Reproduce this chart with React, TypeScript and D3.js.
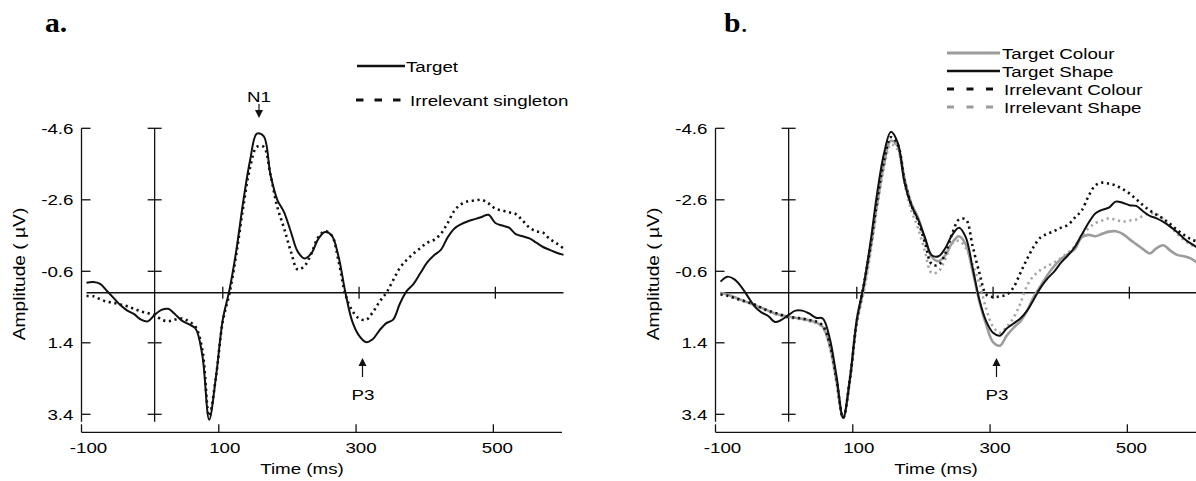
import React from 'react';
import * as d3 from 'd3';

// ---- data -------------------------------------------------------------
const times = d3.range(-100, 601, 10); // ms, sampling grid

const aTarget = [
  -0.28, -0.3, -0.25, -0.05, 0.15, 0.35, 0.5, 0.6, 0.75, 0.8,
  0.62, 0.48, 0.45, 0.6, 0.78, 0.88, 1.0, 1.75, 3.55, 2.35,
  0.75, -0.1, -1.2, -2.55, -3.7, -4.45, -4.38, -3.3, -2.6, -2.25,
  -1.7, -1.15, -0.96, -1.1, -1.5, -1.7, -1.6, -1.0, 0.0, 0.8,
  1.2, 1.38, 1.3, 1.05, 0.85, 0.75, 0.3, -0.05, -0.25, -0.55,
  -0.85, -1.05, -1.2, -1.55, -1.8, -1.92, -2.0, -2.06, -2.12, -2.18,
  -1.95, -1.88, -1.82, -1.64, -1.58, -1.52, -1.4, -1.28, -1.2, -1.12,
  -1.06,
];
const aIrrelevant = [
  0.09, 0.1, 0.18, 0.25, 0.28, 0.33, 0.38, 0.45, 0.52, 0.57,
  0.62, 0.75, 0.8, 0.75, 0.72, 0.8, 0.95, 1.6, 3.45, 2.35,
  0.8, 0.0, -1.1, -2.4, -3.5, -4.08, -4.08, -3.3, -2.4, -1.8,
  -1.15, -0.65, -0.75, -1.1, -1.55, -1.72, -1.6, -0.88, 0.05, 0.5,
  0.72, 0.76, 0.55, 0.25, 0.0, -0.35, -0.7, -0.92, -1.1, -1.25,
  -1.4, -1.48, -1.65, -1.95, -2.3, -2.48, -2.56, -2.58, -2.6, -2.5,
  -2.35, -2.3, -2.25, -2.2, -2.02, -1.82, -1.72, -1.68, -1.5, -1.38,
  -1.24,
];
const bTargetColour = [
  0.0, 0.05, 0.12, 0.2, 0.27, 0.35, 0.42, 0.5, 0.58, 0.63,
  0.67, 0.7, 0.73, 0.77, 0.83, 0.95, 1.45, 2.45, 3.5, 2.4,
  0.8, -0.1, -1.2, -2.5, -3.6, -4.25, -4.1, -3.2, -2.5, -2.1,
  -1.5, -1.0, -0.88, -1.05, -1.4, -1.58, -1.35, -0.6, 0.25, 0.9,
  1.38, 1.48, 1.2, 0.98, 0.8, 0.5, 0.1, -0.2, -0.5, -0.75,
  -0.95, -1.08, -1.22, -1.55, -1.62, -1.58, -1.65, -1.71, -1.72, -1.65,
  -1.5, -1.36, -1.22, -1.1, -1.25, -1.33, -1.18, -1.06, -1.02, -0.96,
  -0.83,
];
const bTargetShape = [
  -0.31, -0.45, -0.38, -0.18, 0.1, 0.38, 0.55, 0.65, 0.82, 0.75,
  0.62, 0.5, 0.5, 0.58, 0.7, 0.72, 1.25, 2.3, 3.5, 2.4,
  0.75, -0.2, -1.4, -2.8, -3.9, -4.5, -4.2, -3.1, -2.45, -2.05,
  -1.55, -1.05, -1.02, -1.25, -1.62, -1.82, -1.55, -0.7, 0.2, 0.8,
  1.12, 1.2, 1.0, 0.86, 0.72, 0.5, 0.18, -0.15, -0.4, -0.6,
  -0.85, -1.05, -1.28, -1.62, -1.95, -2.22, -2.32, -2.38, -2.55, -2.52,
  -2.45, -2.43, -2.28, -2.15, -2.08, -1.98, -1.85, -1.7, -1.52, -1.38,
  -1.26,
];
const bIrrelevantColour = [
  0.05, 0.08, 0.14, 0.2, 0.26, 0.33, 0.42, 0.5, 0.56, 0.62,
  0.67, 0.7, 0.72, 0.76, 0.8, 0.92, 1.4, 2.4, 3.5, 2.4,
  0.8, -0.2, -1.3, -2.6, -3.7, -4.35, -4.15, -3.15, -2.45, -2.0,
  -1.4, -0.8, -0.78, -1.1, -1.65, -2.05, -2.05, -1.3, -0.55, 0.05,
  0.12, 0.1, 0.05, -0.15, -0.55, -0.95, -1.3, -1.55, -1.65, -1.73,
  -1.82, -1.9, -2.1, -2.3, -2.7, -3.0, -3.08, -3.05, -3.0, -2.9,
  -2.78, -2.62, -2.45, -2.3, -2.18, -2.07, -1.92, -1.76, -1.62, -1.5,
  -1.43,
];
const bIrrelevantShape = [
  0.03, 0.08, 0.15, 0.22, 0.28, 0.36, 0.45, 0.52, 0.6, 0.65,
  0.7, 0.72, 0.75, 0.8, 0.85, 0.97, 1.5, 2.5, 3.5, 2.45,
  0.85, 0.0, -1.1, -2.4, -3.5, -4.15, -4.0, -3.05, -2.3, -1.8,
  -1.15, -0.55, -0.6, -0.95, -1.38, -1.45, -1.25, -0.8, -0.25, 0.45,
  0.95, 1.12, 0.95, 0.7, 0.3, -0.2, -0.48, -0.64, -0.75, -0.85,
  -0.98, -1.12, -1.3, -1.6, -1.8, -1.95, -2.02, -2.08, -2.04, -1.99,
  -2.02, -2.05, -2.15, -2.22, -2.2, -2.05, -1.85, -1.65, -1.47, -1.35,
  -1.24,
];

const yTicks = [-4.6, -2.6, -0.6, 1.4, 3.4];
const yTickLabels = ['-4.6', '-2.6', '-0.6', '1.4', '3.4'];
const xTicks = [-100, 100, 300, 500];
const zeroLineTicks = [100, 300, 500];
const legendA = ['Target', 'Irrelevant singleton'];
const legendB = ['Target Colour', 'Target Shape', 'Irrelevant Colour', 'Irrelevant Shape'];

// ---- layout -----------------------------------------------------------
const W = 1196;
const H = 481;
const PANEL_B_DX = 634;
const SANS = "'Liberation Sans', Arial, Helvetica, sans-serif";
const SERIF = "'Liberation Serif', 'Times New Roman', serif";
const GRAY = '#9c9c9c';
const INK = '#111';
const DOT = '2.2 3.6';

const xData = d3.scaleLinear().domain([-100, 600]).range([86.5, 563.5]);
const xAxisScale = d3.scaleLinear().domain([-100, 600]).range([81.5, 562]);
const y = d3.scaleLinear().domain([-4.6, 3.4]).range([128.3, 414.3]);

const lineGen = d3
  .line<number>()
  .x((_, i) => xData(times[i]))
  .y((v) => y(v))
  .curve(d3.curveCatmullRom.alpha(0.5));

type Style = { stroke: string; width: number; dash?: string };

function Txt(props: {
  x: number; y: number; anchor?: string; size?: number; sx?: number;
  weight?: string | number; family?: string; rotate?: number; children: React.ReactNode;
}) {
  const { x, y: yy, anchor = 'start', size = 15, sx = 1.25, weight = 'normal', family = SANS, rotate = 0, children } = props;
  return (
    <g transform={`translate(${x},${yy}) rotate(${rotate}) scale(${sx},1)`}>
      <text textAnchor={anchor as any} fontSize={size} fontFamily={family} fontWeight={weight} fill="#000">
        {children}
      </text>
    </g>
  );
}

function Panel({ dx, series }: { dx: number; series: { values: number[]; style: Style }[] }) {
  const y0 = y(0);
  const yTop = y(-4.6);
  const yBot = 421.7;
  const x0 = xData(0);
  const axisY = 432.3;
  const leftX = 81.5;
  return (
    <g transform={`translate(${dx},0)`}>
      {/* left y axis */}
      <line x1={leftX} x2={leftX} y1={yTop} y2={yBot} stroke={INK} strokeWidth={1.3} />
      {yTicks.map((t, i) => (
        <g key={'yt' + i}>
          <line x1={leftX} x2={leftX + 9} y1={y(t)} y2={y(t)} stroke={INK} strokeWidth={1.3} />
          <Txt x={leftX - 8} y={y(t) + 5.5} anchor="end">{yTickLabels[i]}</Txt>
        </g>
      ))}
      {/* inner vertical at 0 ms */}
      <line x1={x0} x2={x0} y1={yTop} y2={yBot} stroke={INK} strokeWidth={1.3} />
      {yTicks.map((t, i) => (
        <line key={'it' + i} x1={x0 - 7} x2={x0 + 7} y1={y(t)} y2={y(t)} stroke={INK} strokeWidth={1.3} />
      ))}
      {/* zero line */}
      <line x1={xData(-100)} x2={xData(600)} y1={y0} y2={y0} stroke={INK} strokeWidth={1.3} />
      {zeroLineTicks.map((t) => (
        <line key={'zt' + t} x1={xData(t)} x2={xData(t)} y1={y0 - 6} y2={y0 + 6} stroke={INK} strokeWidth={1.3} />
      ))}
      {/* bottom axis */}
      <line x1={xAxisScale(-100)} x2={xAxisScale(600)} y1={axisY} y2={axisY} stroke={INK} strokeWidth={1.3} />
      {xTicks.map((t) => (
        <g key={'xt' + t}>
          <line x1={xAxisScale(t)} x2={xAxisScale(t)} y1={axisY - 8} y2={axisY} stroke={INK} strokeWidth={1.3} />
          <Txt x={xData(t) + 2} y={453} anchor="middle">{String(t)}</Txt>
        </g>
      ))}
      <Txt x={302} y={474} anchor="middle" size={15}>Time (ms)</Txt>
      <Txt x={25} y={274} anchor="middle" size={16} sx={1.2} rotate={-90}>Amplitude ( µV)</Txt>
      {/* series */}
      {series.map((s, i) => (
        <path
          key={'s' + i}
          d={lineGen(s.values) || ''}
          fill="none"
          stroke={s.style.stroke}
          strokeWidth={s.style.width}
          strokeDasharray={s.style.dash}
          strokeLinejoin="round"
        />
      ))}
      {/* P3 annotation */}
      <line x1={362.5} x2={362.5} y1={362} y2={377} stroke={INK} strokeWidth={1.2} />
      <polygon points="358.5,366 366.5,366 362.5,358" fill={INK} />
      <Txt x={363} y={400} anchor="middle">P3</Txt>
    </g>
  );
}

export default function App() {
  const solid: Style = { stroke: INK, width: 2 };
  const dotted: Style = { stroke: INK, width: 2.6, dash: DOT };
  const graySolid: Style = { stroke: GRAY, width: 2.6 };
  const grayDotted: Style = { stroke: '#a6a6a6', width: 2.6, dash: DOT };

  const legendAY = [66, 100];
  const legendBY = [53, 71, 89, 107];
  const legendBStyles: Style[] = [
    { stroke: GRAY, width: 3 },
    { stroke: INK, width: 2.6 },
    { stroke: INK, width: 3.2, dash: '7 12.5' },
    { stroke: GRAY, width: 3.2, dash: '7 12.5' },
  ];

  return (
    <svg width={W} height={H} viewBox={`0 0 ${W} ${H}`} style={{ position: 'absolute', left: 0, top: 0, background: '#fff' }}>
      <rect x={0} y={0} width={W} height={H} fill="#fff" />
      {/* panel a */}
      <Panel
        dx={0}
        series={[
          { values: aIrrelevant, style: dotted },
          { values: aTarget, style: solid },
        ]}
      />
      <Txt x={45} y={32} size={27} sx={1.1} weight="bold" family={SERIF}>a.</Txt>
      {/* N1 annotation */}
      <Txt x={259} y={102} anchor="middle">N1</Txt>
      <line x1={259} x2={259} y1={104} y2={112} stroke={INK} strokeWidth={1.2} />
      <polygon points="255,110 263,110 259,118" fill={INK} />
      {/* legend a */}
      <line x1={357} x2={405} y1={legendAY[0]} y2={legendAY[0]} stroke={INK} strokeWidth={2.6} />
      <Txt x={406} y={legendAY[0] + 5.5}>{legendA[0]}</Txt>
      <line x1={356} x2={402} y1={legendAY[1]} y2={legendAY[1]} stroke={INK} strokeWidth={3.2} strokeDasharray="7.5 11" />
      <Txt x={410} y={legendAY[1] + 5.5}>{legendA[1]}</Txt>

      {/* panel b */}
      <Panel
        dx={PANEL_B_DX}
        series={[
          { values: bTargetColour, style: graySolid },
          { values: bIrrelevantShape, style: grayDotted },
          { values: bIrrelevantColour, style: dotted },
          { values: bTargetShape, style: solid },
        ]}
      />
      <g transform="translate(724,32) scale(1.1,1)">
        <text fontFamily={SERIF} fontSize={27} fill="#000">
          <tspan fontWeight="bold">b</tspan>
          <tspan>.</tspan>
        </text>
      </g>
      {legendB.map((lab, i) => (
        <g key={'lb' + i}>
          <line
            x1={947}
            x2={1000}
            y1={legendBY[i]}
            y2={legendBY[i]}
            stroke={legendBStyles[i].stroke}
            strokeWidth={legendBStyles[i].width}
            strokeDasharray={legendBStyles[i].dash}
          />
          <Txt x={i < 2 ? 1002 : 1004} y={legendBY[i] + 5.5}>{lab}</Txt>
        </g>
      ))}
    </svg>
  );
}
